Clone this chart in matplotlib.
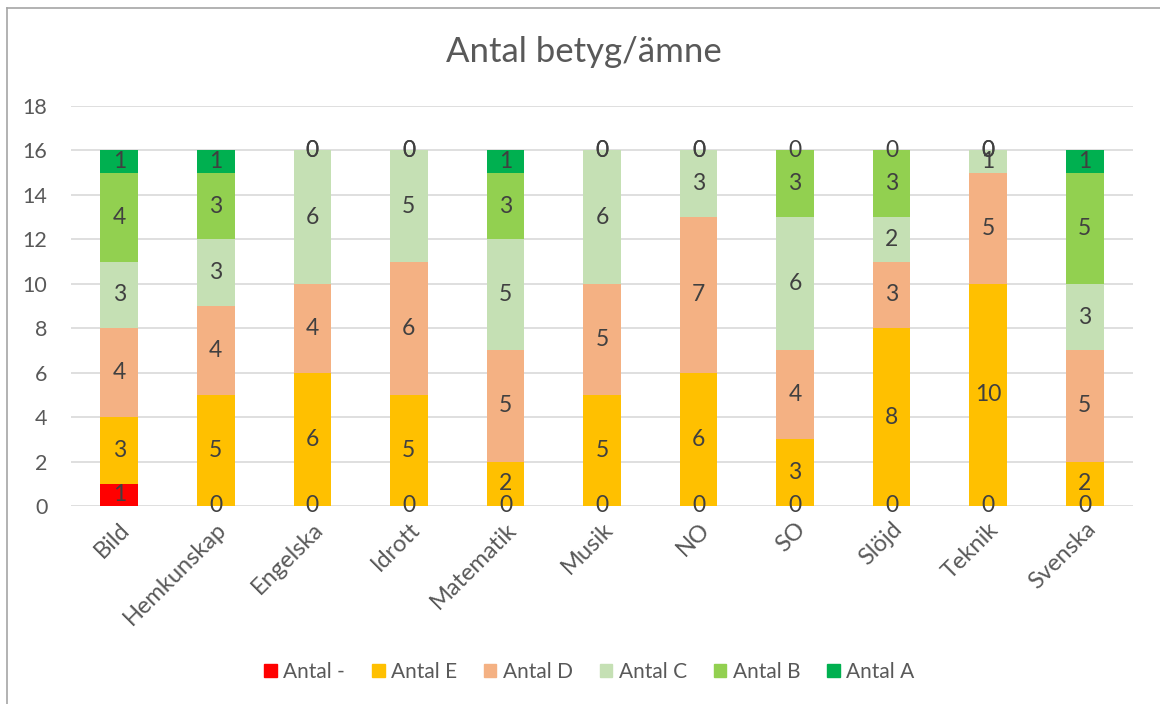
import matplotlib.pyplot as plt
from matplotlib.lines import Line2D
import numpy as np

plt.rcParams['font.family'] = ['Lato', 'DejaVu Sans']

# Data
subjects = ['Bild', 'Hemkunskap', 'Engelska', 'Idrott', 'Matematik', 'Musik',
            'NO', 'SO', 'Slöjd', 'Teknik', 'Svenska']
series_names = ['Antal -', 'Antal E', 'Antal D', 'Antal C', 'Antal B', 'Antal A']
antal_minus = [1, 0, 0, 0, 0, 0, 0, 0, 0, 0, 0]
antal_e = [3, 5, 6, 5, 2, 5, 6, 3, 8, 10, 2]
antal_d = [4, 4, 4, 6, 5, 5, 7, 4, 3, 5, 5]
antal_c = [3, 3, 6, 5, 5, 6, 3, 6, 2, 1, 3]
antal_b = [4, 3, 0, 0, 3, 0, 0, 3, 3, 0, 5]
antal_a = [1, 1, 0, 0, 1, 0, 0, 0, 0, 0, 1]
series = [antal_minus, antal_e, antal_d, antal_c, antal_b, antal_a]
colors = ['#FF0000', '#FFC000', '#F4B183', '#C5E0B4', '#92D050', '#00B050']

text_color = '#595959'
label_color = '#404040'

fig = plt.figure(figsize=(11.6, 7.04), dpi=100)
ax = fig.add_axes([0.0612, 0.2813, 0.9155, 0.5681])

x = np.arange(len(subjects))
bottom = np.zeros(len(subjects))
for name, vals, col in zip(series_names, series, colors):
    vals = np.array(vals, dtype=float)
    ax.bar(x, vals, 0.39, bottom=bottom, color=col, label=name, zorder=2)
    for xi, b, v in zip(x, bottom, vals):
        ax.text(xi, b + v / 2, f'{int(v)}', ha='center', va='center',
                fontsize=16.5, color=label_color, zorder=3)
    bottom += vals

ax.set_xlim(-0.5, len(subjects) - 0.5)
ax.set_ylim(0, 18)
ax.set_yticks(range(0, 19, 2))
ax.set_xticks(x)
ax.set_xticklabels(subjects, rotation=45, ha='right', rotation_mode='anchor',
                   fontsize=17, color=text_color)
ax.tick_params(axis='y', labelsize=15.5, labelcolor=text_color, length=0, pad=17)
ax.tick_params(axis='x', length=0, pad=9)
ax.grid(axis='y', color='#d9d9d9', linewidth=1.2, zorder=0)
for s in ax.spines.values():
    s.set_visible(False)

fig.text(0.503, 0.926, 'Antal betyg/ämne', ha='center', va='center',
         fontsize=25, color=text_color)

handles = [plt.Rectangle((0, 0), 1, 1, color=c) for c in colors]
fig.legend(handles, series_names, loc='center', bbox_to_anchor=(0.508, 0.046),
           ncol=6, frameon=False, fontsize=15, labelcolor=text_color,
           handlelength=0.6, handleheight=0.6, handletextpad=0.3, columnspacing=1.3)

# chart border
fig.add_artist(Line2D([6.5 / 1160, 1], [1 - 8 / 704, 1 - 8 / 704],
                      transform=fig.transFigure, color='#a6a6a6', lw=1.2))
fig.add_artist(Line2D([6.5 / 1160, 6.5 / 1160], [0, 1 - 8 / 704],
                      transform=fig.transFigure, color='#a6a6a6', lw=1.2))

plt.savefig('out.png', dpi=100)
